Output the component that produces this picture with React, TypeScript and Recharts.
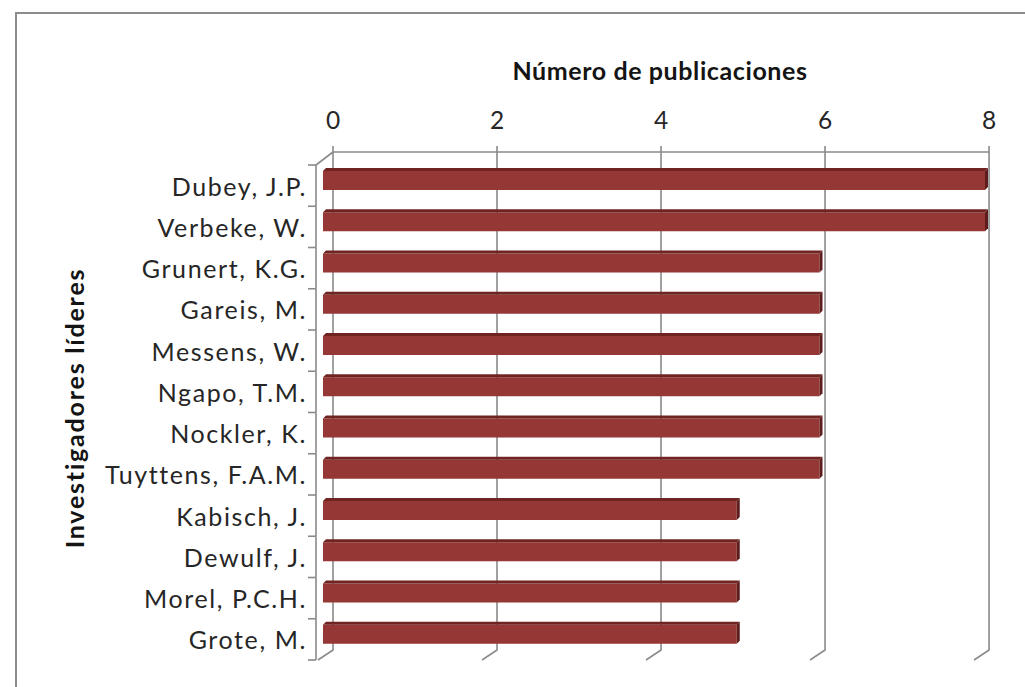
import { BarChart, Bar, XAxis, YAxis, CartesianGrid } from "recharts";

const investigadores = [
  "Dubey, J.P.",
  "Verbeke, W.",
  "Grunert, K.G.",
  "Gareis, M.",
  "Messens, W.",
  "Ngapo, T.M.",
  "Nockler, K.",
  "Tuyttens, F.A.M.",
  "Kabisch, J.",
  "Dewulf, J.",
  "Morel, P.C.H.",
  "Grote, M.",
];
const publicaciones = [8, 8, 6, 6, 6, 6, 6, 6, 5, 5, 5, 5];
const xTicks = [0, 2, 4, 6, 8];

const data = investigadores.map((name, i) => ({ name, value: publicaciones[i] }));

const FONT = "Lato, 'Open Sans', sans-serif";
const LINE = "#8a8a8a";
const BAR = "#953735";
const TXT = "#262626";

// plot area = front faces of the bars
const PLOT_LEFT = 323;
const PLOT_TOP = 160;
const PLOT_BOTTOM = 655;
const W = 1025;
const H = 687;

// back wall sits up/right of the bars, a little compressed
const toBack = (x: number) => 333 + (x - PLOT_LEFT) * 0.991;
const BACK_TOP = 152;
const BACK_BOTTOM = 650;
const WALL_X = 316;

function Bar3D(props: any) {
  const { x, y, width, height } = props;
  if (!width || width <= 0) return null;
  const d = 3;
  const r = x + width;
  return (
    <g>
      <rect x={x} y={y} width={width} height={height} fill={BAR} />
      <polygon points={`${x},${y} ${x + d},${y - d} ${r + d},${y - d} ${r},${y}`} fill="#6f2422" />
      <polygon points={`${r},${y} ${r + d},${y - d} ${r + d},${y + height - d} ${r},${y + height}`} fill="#5e1d1c" />
    </g>
  );
}

function GridLine(props: any) {
  const bx = toBack(props.x1);
  return (
    <polyline
      points={`${bx},${BACK_TOP - 6} ${bx},${BACK_BOTTOM} ${bx - 15},${BACK_BOTTOM + 10}`}
      fill="none"
      stroke={LINE}
      strokeWidth={1.6}
    />
  );
}

function XTick(props: any) {
  const { x, payload } = props;
  return (
    <text x={toBack(x)} y={129} textAnchor="middle" fontFamily={FONT} fontSize={24.5} fill={TXT}>
      {payload.value}
    </text>
  );
}

function YTick(props: any) {
  const { y, payload, index } = props;
  const band = (PLOT_BOTTOM - PLOT_TOP) / investigadores.length;
  const top = y - band / 2 + 5;
  const bot = y + band / 2 + 5;
  return (
    <g>
      <text
        x={307}
        y={y + 15}
        textAnchor="end"
        fontFamily={FONT}
        fontSize={25}
        letterSpacing={1.6}
        fill={TXT}
      >
        {payload.value}
      </text>
      <line x1={WALL_X} y1={top} x2={WALL_X} y2={bot} stroke={LINE} strokeWidth={1.6} />
      <line x1={WALL_X - 8} y1={top} x2={WALL_X} y2={top} stroke={LINE} strokeWidth={1.6} />
      {index === investigadores.length - 1 && (
        <line x1={WALL_X - 8} y1={bot} x2={WALL_X} y2={bot} stroke={LINE} strokeWidth={1.6} />
      )}
      {index === 0 && (
        <line x1={WALL_X} y1={top} x2={toBack(PLOT_LEFT)} y2={BACK_TOP} stroke={LINE} strokeWidth={1.6} />
      )}
    </g>
  );
}

export default function App() {
  return (
    <div
      style={{
        position: "absolute",
        left: 0,
        top: 0,
        width: W,
        height: H,
        overflow: "hidden",
        background: "#fff",
      }}
    >
      <div
        style={{
          position: "absolute",
          left: 15,
          top: 12,
          width: W,
          height: H,
          border: "2px solid #8c8c8c",
        }}
      />
      <div style={{ position: "absolute", left: 0, top: 0 }}>
        <BarChart
          width={W}
          height={H}
          data={data}
          layout="vertical"
          margin={{ top: 0, right: W - 985, bottom: H - PLOT_BOTTOM, left: 0 }}
          barCategoryGap={0}
        >
          <text x={660} y={80} textAnchor="middle" fontFamily={FONT} fontWeight={700} fontSize={25} letterSpacing={0.6} fill="#141414">
            Número de publicaciones
          </text>
          <text
            x={84}
            y={408}
            transform="rotate(-90, 84, 408)"
            textAnchor="middle"
            fontFamily={FONT}
            fontWeight={700}
            fontSize={25}
            letterSpacing={1.8}
            fill="#141414"
          >
            Investigadores líderes
          </text>
          <line x1={toBack(PLOT_LEFT)} y1={BACK_TOP} x2={toBack(985)} y2={BACK_TOP} stroke={LINE} strokeWidth={1.6} />
          <CartesianGrid horizontal={false} vertical={(p: any) => <GridLine key={p.key ?? p.index} {...p} />} />
          <XAxis
            type="number"
            orientation="top"
            domain={[0, 8]}
            ticks={xTicks}
            height={PLOT_TOP}
            axisLine={false}
            tickLine={false}
            tick={<XTick />}
          />
          <YAxis
            type="category"
            dataKey="name"
            width={PLOT_LEFT}
            axisLine={false}
            tickLine={false}
            interval={0}
            tick={<YTick />}
          />
          <Bar dataKey="value" barSize={19} shape={<Bar3D />} isAnimationActive={false} />
        </BarChart>
      </div>
    </div>
  );
}
